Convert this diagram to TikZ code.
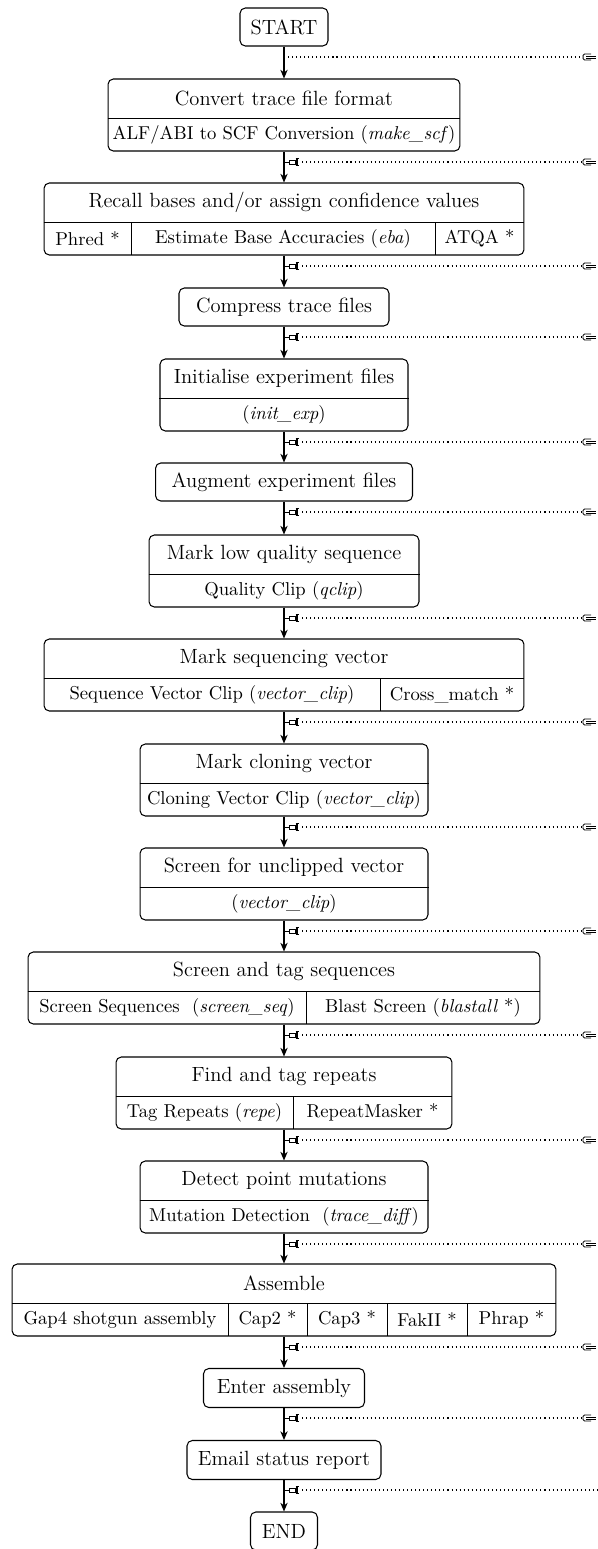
\documentclass[tikz,border=0pt]{standalone}
\usepackage{tikz}
\usetikzlibrary{arrows.meta}

\tikzset{
  stepbox/.style={draw, rounded corners=3pt, line width=0.6pt, inner sep=0pt},
  titletext/.style={font=\fontsize{11.7}{14}\selectfont},
  celltext/.style={font=\fontsize{10.6}{12}\selectfont},
  flow/.style={->,>={Stealth[length=5pt,width=4.2pt]},line width=0.6pt},
  dots/.style={line width=0.7pt,dash pattern=on 0.6pt off 1.7pt},
  plug/.pic={
    \draw[line width=0.5pt] (1,0) -- (5,0);
    \draw[line width=0.5pt,fill=white] (5,-2) rectangle (11,2);
    \draw[line width=0.9pt] (13,-3.5) -- (13,3.5);
    \draw[line width=0.5pt] (11.5,-3.5) -- (14.5,-3.5) (11.5,3.5) -- (14.5,3.5);
  },
  socket/.pic={
    \draw[line width=0.5pt] (8,-3) -- (1.5,-3) -- (0,-1.5) -- (0,1.5) -- (1.5,3) -- (8,3);
    \draw[line width=0.5pt] (3,-1) -- (13,-1) (3,1) -- (13,1);
  }
}

\begin{document}
\begin{tikzpicture}[x=0.02cm,y=-0.02cm]
\useasboundingbox (0,0) rectangle (598,1549);

% start
\node[stepbox,titletext,minimum width=1.76cm,minimum height=0.76cm] (start) at (284,27) {START};

% convert
\node[stepbox,minimum width=7.04cm,minimum height=1.44cm] (convert) at (284,115) {};
\draw ([yshift=-0.06cm]convert.west) -- ([yshift=-0.06cm]convert.east);
\node[titletext] (convertT) at (284,98.5) {Convert trace file format};
\node[celltext] (convertA) at (284,134.5) {ALF/ABI to SCF Conversion (\textit{make\_scf})};

% recall
\node[stepbox,minimum width=9.6cm,minimum height=1.44cm] (recall) at (284,219) {};
\draw ([yshift=-0.06cm]recall.west) -- ([yshift=-0.06cm]recall.east);
\draw (131,222) -- (131,255);
\draw (435,222) -- (435,255);
\node[titletext] (recallT) at (284,202.5) {Recall bases and/or assign confidence values};
\node[celltext] (recallA) at (87.5,238.5) {Phred *};
\node[celltext] (recallB) at (283,238.5) {Estimate Base Accuracies (\textit{eba})};
\node[celltext] (recallC) at (479.5,238.5) {ATQA *};

% compress
\node[stepbox,titletext,minimum width=4.2cm,minimum height=0.76cm] (compress) at (284,307) {Compress trace files};

% init
\node[stepbox,minimum width=4.96cm,minimum height=1.44cm] (init) at (284,395) {};
\draw ([yshift=-0.06cm]init.west) -- ([yshift=-0.06cm]init.east);
\node[titletext] (initT) at (284,378.5) {Initialise experiment files};
\node[celltext] (initA) at (284,414.5) {(\textit{init\_exp})};

% augment
\node[stepbox,titletext,minimum width=5.14cm,minimum height=0.76cm] (augment) at (284,482) {Augment experiment files};

% quality
\node[stepbox,minimum width=5.4cm,minimum height=1.44cm] (marklow) at (284,571) {};
\draw ([yshift=-0.06cm]marklow.west) -- ([yshift=-0.06cm]marklow.east);
\node[titletext] (marklowT) at (284,554.5) {Mark low quality sequence};
\node[celltext] (marklowA) at (284,590.5) {Quality Clip (\textit{qclip})};

% sequencing vector
\node[stepbox,minimum width=9.6cm,minimum height=1.44cm] (markseq) at (284,675) {};
\draw ([yshift=-0.06cm]markseq.west) -- ([yshift=-0.06cm]markseq.east);
\draw (380,678) -- (380,711);
\node[titletext] (markseqT) at (284,658.5) {Mark sequencing vector};
\node[celltext] (markseqA) at (212,694.5) {Sequence Vector Clip (\textit{vector\_clip})};
\node[celltext] (markseqB) at (452,694.5) {Cross\_match *};

% cloning vector
\node[stepbox,minimum width=5.76cm,minimum height=1.44cm] (markclone) at (284,780) {};
\draw ([yshift=-0.06cm]markclone.west) -- ([yshift=-0.06cm]markclone.east);
\node[titletext] (markcloneT) at (284,763.5) {Mark cloning vector};
\node[celltext] (markcloneA) at (284,799.5) {Cloning Vector Clip (\textit{vector\_clip})};

% unclipped vector
\node[stepbox,minimum width=5.76cm,minimum height=1.44cm] (screenvec) at (284,884) {};
\draw ([yshift=-0.06cm]screenvec.west) -- ([yshift=-0.06cm]screenvec.east);
\node[titletext] (screenvecT) at (284,867.5) {Screen for unclipped vector};
\node[celltext] (screenvecA) at (284,903.5) {(\textit{vector\_clip})};

% screen and tag
\node[stepbox,minimum width=10.24cm,minimum height=1.44cm] (screentag) at (284,988) {};
\draw ([yshift=-0.06cm]screentag.west) -- ([yshift=-0.06cm]screentag.east);
\draw (306,991) -- (306,1024);
\node[titletext] (screentagT) at (284,971.5) {Screen and tag sequences};
\node[celltext] (screentagA) at (167,1007.5) {Screen Sequences\ \ (\textit{screen\_seq})};
\node[celltext] (screentagB) at (423,1007.5) {Blast Screen (\textit{blastall} *)};

% repeats
\node[stepbox,minimum width=6.72cm,minimum height=1.44cm] (repeats) at (284,1093) {};
\draw ([yshift=-0.06cm]repeats.west) -- ([yshift=-0.06cm]repeats.east);
\draw (293,1096) -- (293,1129);
\node[titletext] (repeatsT) at (284,1076.5) {Find and tag repeats};
\node[celltext] (repeatsA) at (204.5,1112.5) {Tag Repeats (\textit{repe})};
\node[celltext] (repeatsB) at (372.5,1112.5) {RepeatMasker *};

% mutations
\node[stepbox,minimum width=5.76cm,minimum height=1.44cm] (mutation) at (284,1197) {};
\draw ([yshift=-0.06cm]mutation.west) -- ([yshift=-0.06cm]mutation.east);
\node[titletext] (mutationT) at (284,1180.5) {Detect point mutations};
\node[celltext] (mutationA) at (284,1216.5) {Mutation Detection\ \ (\textit{trace\_diff})};

% assemble
\node[stepbox,minimum width=10.88cm,minimum height=1.44cm] (assemble) at (284,1300) {};
\draw ([yshift=-0.06cm]assemble.west) -- ([yshift=-0.06cm]assemble.east);
\foreach \x in {228,307,387,467}
  \draw (\x,1303) -- (\x,1336);
\node[titletext] (assembleT) at (284,1283.5) {Assemble};
\node[celltext] (assembleA) at (120,1319.5) {Gap4 shotgun assembly};
\node[celltext] (assembleB) at (267.5,1319.5) {Cap2 *};
\node[celltext] (assembleC) at (347,1319.5) {Cap3 *};
\node[celltext] (assembleD) at (427,1319.5) {FakII *};
\node[celltext] (assembleE) at (511.5,1319.5) {Phrap *};

% last steps
\node[stepbox,titletext,minimum width=3.22cm,minimum height=0.78cm] (enter) at (284,1388) {Enter assembly};
\node[stepbox,titletext,minimum width=3.88cm,minimum height=0.78cm] (email) at (284,1460) {Email status report};
\node[stepbox,titletext,minimum width=1.34cm,minimum height=0.76cm] (finish) at (284,1531) {END};

% flow
\foreach \a/\b in {start/convert,convert/recall,recall/compress,compress/init,init/augment,
    augment/marklow,marklow/markseq,markseq/markclone,markclone/screenvec,screenvec/screentag,
    screentag/repeats,repeats/mutation,mutation/assemble,assemble/enter,enter/email,email/finish}
  \draw[flow] (\a) -- (\b);

% dotted taps
\coordinate (tap0) at (288,57);
\coordinate (port0) at (583,57);
\draw[dots] (tap0) -- (port0);
\pic at (port0) {socket};
\foreach \y in {162,266,337,442,512,618,722,827,931,1035,1140,1244,1347,1418} {
  \pic at (284,\y) {plug};
  \coordinate (tap) at (302,\y);
  \coordinate (port) at (583,\y);
  \draw[dots] (tap) -- (port);
  \pic at (port) {socket};
}
\pic at (284,1490) {plug};
\coordinate (tapN) at (302,1490);
\coordinate (portN) at (598,1490);
\draw[dots] (tapN) -- (portN);
\end{tikzpicture}
\end{document}
